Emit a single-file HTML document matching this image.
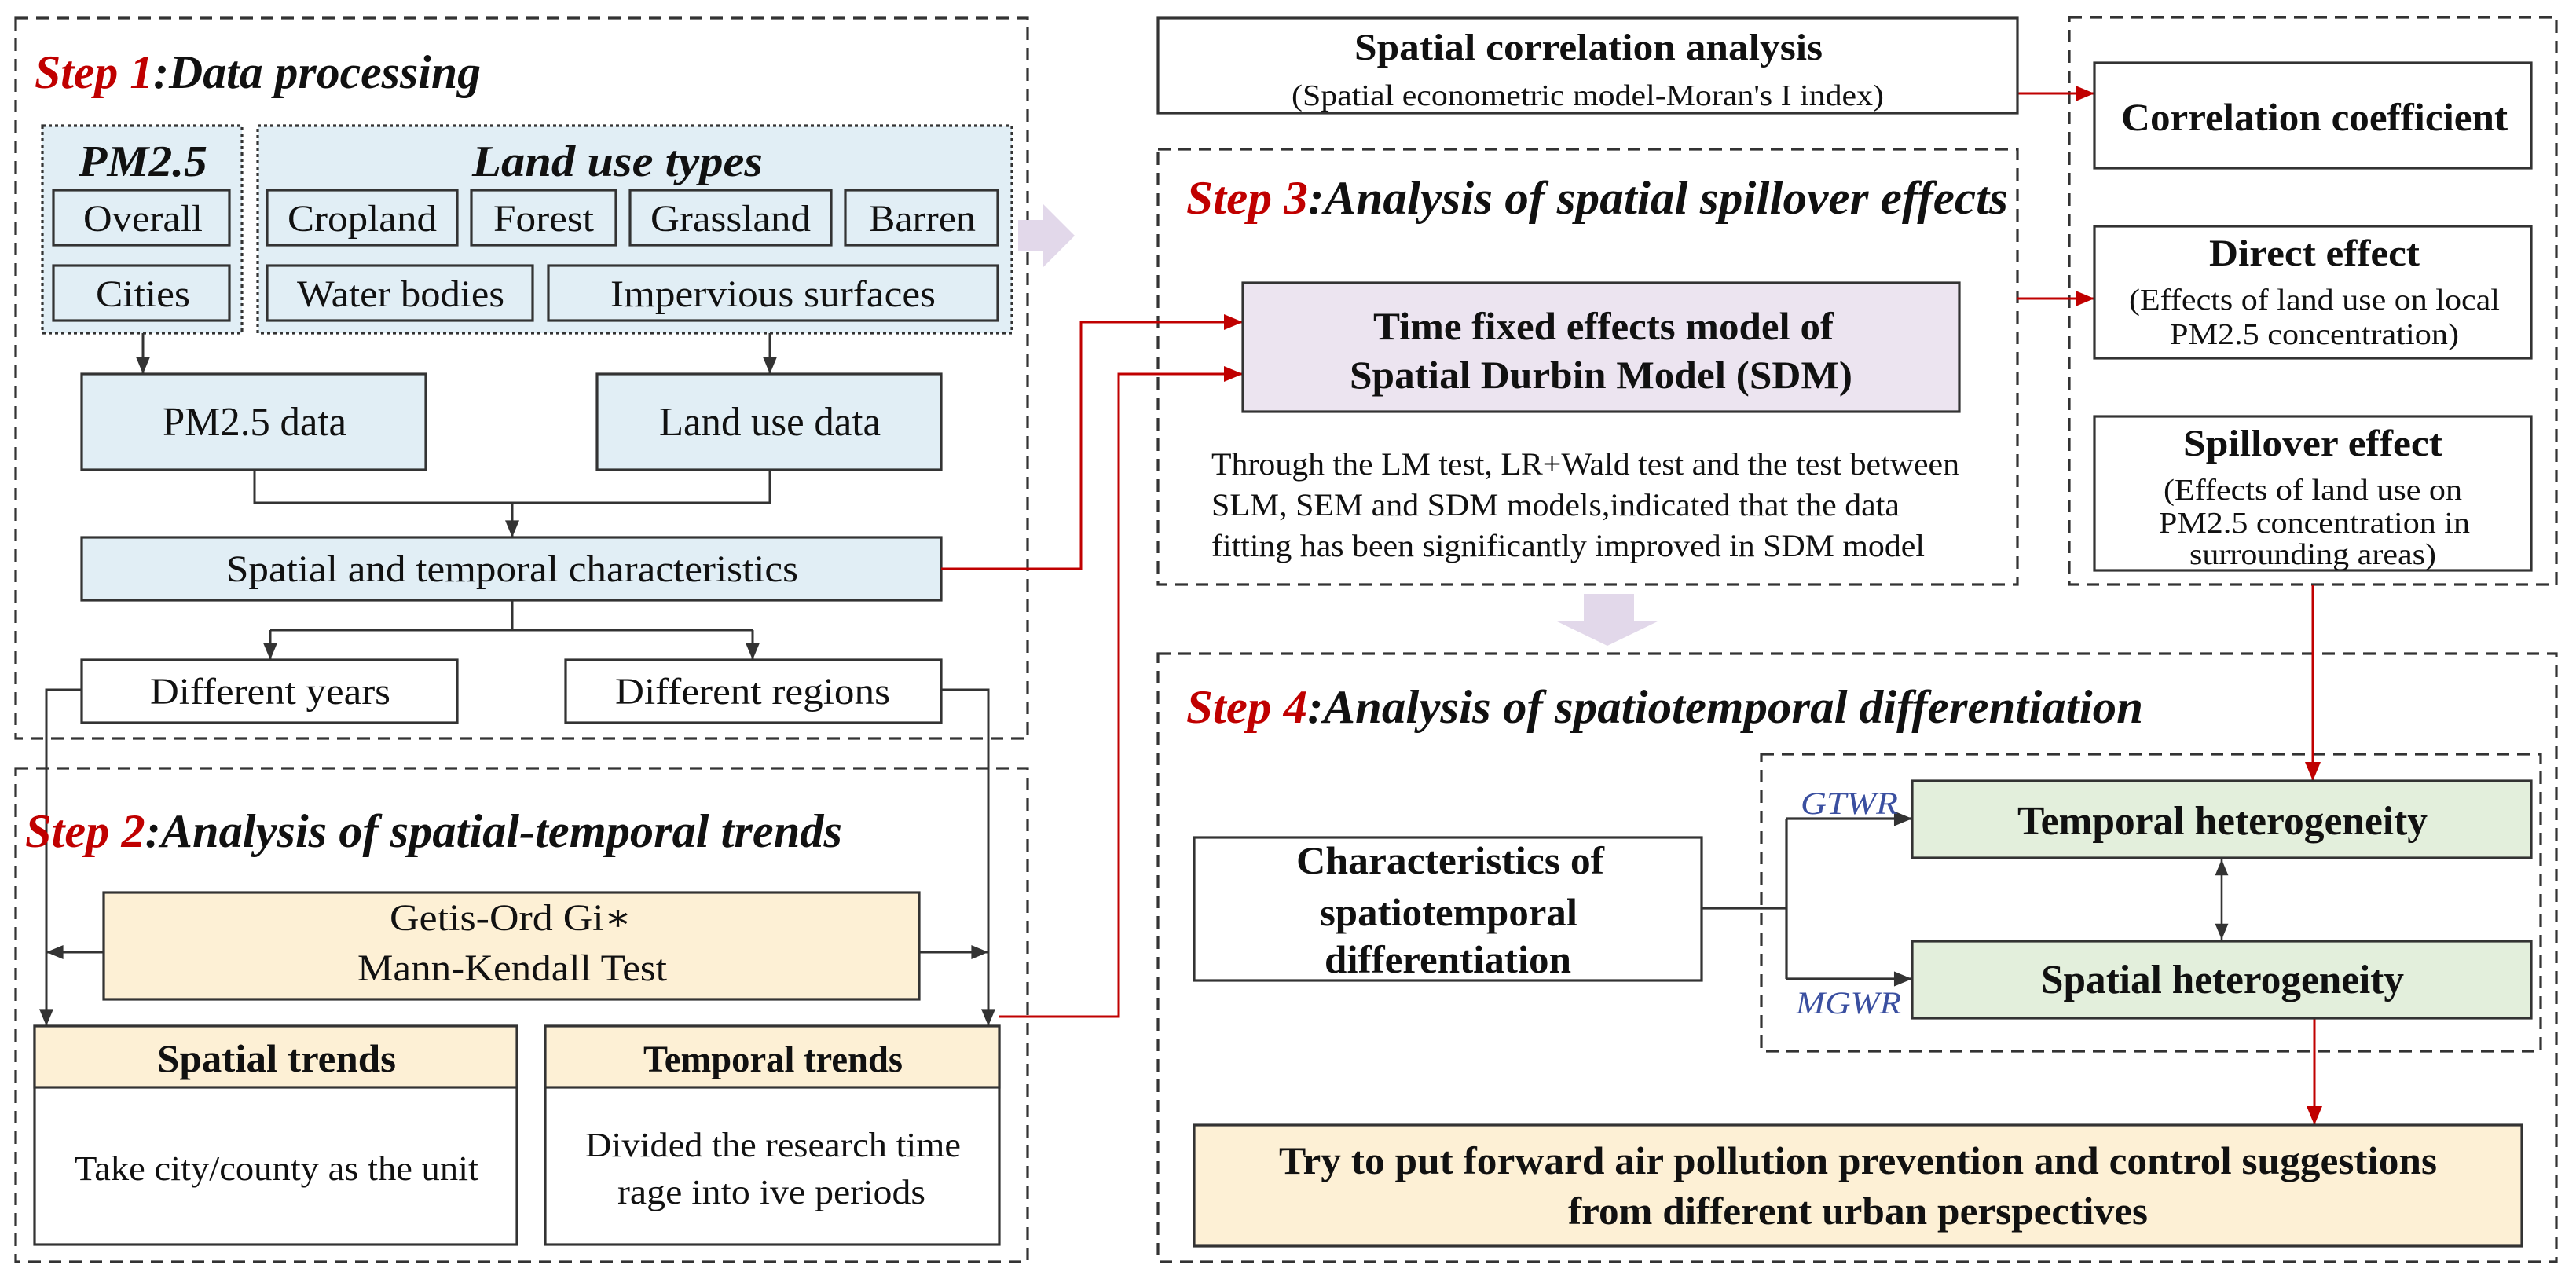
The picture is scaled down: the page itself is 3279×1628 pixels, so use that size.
<!DOCTYPE html>
<html><head><meta charset="utf-8"><style>
html,body{margin:0;padding:0;background:#fff;}
svg{display:block;}
text{font-family:"Liberation Serif","DejaVu Serif",serif;fill:#111;}
.b{font-weight:bold;}
.t{font-weight:bold;font-style:italic;}
</style></head><body>
<svg width="3279" height="1628" viewBox="0 0 1639.5 814" xmlns="http://www.w3.org/2000/svg">
<defs>
<marker id="ak" viewBox="0 0 12 10" refX="12" refY="5" markerWidth="7.5" markerHeight="6" orient="auto" markerUnits="strokeWidth"><path d="M0,0 L12,5 L0,10 z" fill="#333"/></marker>
<marker id="ar" viewBox="0 0 12 10" refX="12" refY="5" markerWidth="8" markerHeight="7" orient="auto" markerUnits="strokeWidth"><path d="M0,0 L12,5 L0,10 z" fill="#c00000"/></marker>
<marker id="ak2" viewBox="0 0 12 10" refX="12" refY="5" markerWidth="8" markerHeight="6.5" orient="auto-start-reverse" markerUnits="strokeWidth"><path d="M0,0 L12,5 L0,10 z" fill="#333"/></marker>
</defs>
<g fill="none" stroke="#333" stroke-width="1.6">
<rect x="10" y="11.5" width="644" height="458.5" stroke-dasharray="8 5"/>
<rect x="10" y="489" width="644" height="314" stroke-dasharray="8 5"/>
<rect x="737" y="95" width="547" height="277" stroke-dasharray="8 5"/>
<rect x="1317" y="11" width="310" height="361" stroke-dasharray="8 5"/>
<rect x="737" y="416" width="890" height="387" stroke-dasharray="8 5"/>
<rect x="1121" y="480" width="496" height="189" stroke-dasharray="8 5"/>
</g>
<path d="M648,140 L664,140 L664,130 L684,150 L664,170 L664,160 L648,160 z" fill="#e2d8ea"/>
<path d="M1008,378 L1040,378 L1040,395 L1056,395 L1023,411 L990,395 L1008,395 z" fill="#e2d8ea"/>

<text x="22" y="56" font-size="30" class="t" textLength="284" lengthAdjust="spacingAndGlyphs"><tspan fill="#c00000">Step 1</tspan>:Data processing</text>
<rect x="27" y="80" width="127" height="132" fill="#e1eef5" stroke="#333" stroke-width="1.6" stroke-dasharray="2 2"/>
<rect x="164" y="80" width="480" height="132" fill="#e1eef5" stroke="#333" stroke-width="1.6" stroke-dasharray="2 2"/>
<text x="91" y="112" font-size="28" class="t" text-anchor="middle" textLength="82" lengthAdjust="spacingAndGlyphs">PM2.5</text>
<text x="393" y="112" font-size="28" class="t" text-anchor="middle" textLength="185" lengthAdjust="spacingAndGlyphs">Land use types</text>
<g fill="#e1eef5" stroke="#333" stroke-width="1.6">
<rect x="34" y="121" width="112" height="35"/><rect x="34" y="169" width="112" height="35"/>
<rect x="170" y="121" width="121" height="35"/><rect x="300" y="121" width="92" height="35"/>
<rect x="401" y="121" width="128" height="35"/><rect x="538" y="121" width="97" height="35"/>
<rect x="170" y="169" width="169" height="35"/><rect x="349" y="169" width="286" height="35"/>
<rect x="52" y="238" width="219" height="61"/><rect x="380" y="238" width="219" height="61"/>
<rect x="52" y="342" width="547" height="40"/>
</g>
<g font-size="24" text-anchor="middle">
<text x="91" y="147" textLength="76" lengthAdjust="spacingAndGlyphs">Overall</text>
<text x="91" y="195" textLength="60" lengthAdjust="spacingAndGlyphs">Cities</text>
<text x="230.5" y="147" textLength="95" lengthAdjust="spacingAndGlyphs">Cropland</text>
<text x="346" y="147" textLength="64" lengthAdjust="spacingAndGlyphs">Forest</text>
<text x="465" y="147" textLength="102" lengthAdjust="spacingAndGlyphs">Grassland</text>
<text x="587" y="147" textLength="68" lengthAdjust="spacingAndGlyphs">Barren</text>
<text x="255" y="195" textLength="132" lengthAdjust="spacingAndGlyphs">Water bodies</text>
<text x="492" y="195" textLength="207" lengthAdjust="spacingAndGlyphs">Impervious surfaces</text>
<text x="162" y="277" font-size="26" textLength="117" lengthAdjust="spacingAndGlyphs">PM2.5 data</text>
<text x="490" y="277" font-size="26" textLength="141" lengthAdjust="spacingAndGlyphs">Land use data</text>
<text x="326" y="370" textLength="364" lengthAdjust="spacingAndGlyphs">Spatial and temporal characteristics</text>
</g>
<g fill="#fff" stroke="#333" stroke-width="1.6">
<rect x="52" y="420" width="239" height="40"/><rect x="360" y="420" width="239" height="40"/>
</g>
<text x="172" y="448" font-size="24" text-anchor="middle" textLength="153" lengthAdjust="spacingAndGlyphs">Different years</text>
<text x="479" y="448" font-size="24" text-anchor="middle" textLength="175" lengthAdjust="spacingAndGlyphs">Different regions</text>
<g fill="none" stroke="#333" stroke-width="1.5">
<path d="M91,212 V238" marker-end="url(#ak)"/>
<path d="M490,212 V238" marker-end="url(#ak)"/>
<path d="M162,299 V320 H490 V299"/>
<path d="M326,320 V342" marker-end="url(#ak)"/>
<path d="M326,382 V401"/>
<path d="M172,401 H479"/>
<path d="M172,401 V420" marker-end="url(#ak)"/>
<path d="M479,401 V420" marker-end="url(#ak)"/>
<path d="M52,439 H29.5 V653" marker-end="url(#ak)"/>
<path d="M599,439 H629 V653" marker-end="url(#ak)"/>
<path d="M66,606 H29.5" marker-end="url(#ak)"/>
<path d="M585,606 H629" marker-end="url(#ak)"/>
</g>

<text x="16" y="539" font-size="30" class="t" textLength="520" lengthAdjust="spacingAndGlyphs"><tspan fill="#c00000">Step 2</tspan>:Analysis of spatial-temporal trends</text>
<rect x="66" y="568" width="519" height="68" fill="#fdf0d5" stroke="#333" stroke-width="1.6"/>
<text x="325" y="592" font-size="24" text-anchor="middle" textLength="154" lengthAdjust="spacingAndGlyphs">Getis-Ord Gi∗</text>
<text x="326" y="624" font-size="24" text-anchor="middle" textLength="197" lengthAdjust="spacingAndGlyphs">Mann-Kendall Test</text>
<g stroke="#333" stroke-width="1.6">
<rect x="22" y="653" width="307" height="139" fill="#fff"/><rect x="22" y="653" width="307" height="39" fill="#fdf0d5"/>
<rect x="347" y="653" width="289" height="139" fill="#fff"/><rect x="347" y="653" width="289" height="39" fill="#fdf0d5"/>
</g>
<text x="176" y="682" font-size="25" class="b" text-anchor="middle" textLength="152" lengthAdjust="spacingAndGlyphs">Spatial trends</text>
<text x="492" y="682" font-size="24" class="b" text-anchor="middle" textLength="165" lengthAdjust="spacingAndGlyphs">Temporal trends</text>
<text x="176" y="751" font-size="22" text-anchor="middle" textLength="257" lengthAdjust="spacingAndGlyphs">Take city/county as the unit</text>
<text x="492" y="736" font-size="22" text-anchor="middle" textLength="239" lengthAdjust="spacingAndGlyphs">Divided the research time</text>
<text x="491" y="766" font-size="22" text-anchor="middle" textLength="196" lengthAdjust="spacingAndGlyphs">rage into  ive periods</text>

<g fill="none" stroke="#c00000" stroke-width="1.5">
<path d="M599,362 H688 V205 H791" marker-end="url(#ar)"/>
<path d="M636,647 H712 V238 H791" marker-end="url(#ar)"/>
<path d="M1284,59.5 H1333" marker-end="url(#ar)"/>
<path d="M1284,190 H1333" marker-end="url(#ar)"/>
<path d="M1472,372 V497" marker-end="url(#ar)"/>
<path d="M1473,648 V716" marker-end="url(#ar)"/>
</g>

<rect x="737" y="11.5" width="547" height="60.5" fill="#fff" stroke="#333" stroke-width="1.6"/>
<text x="1011" y="38" font-size="24" class="b" text-anchor="middle" textLength="298" lengthAdjust="spacingAndGlyphs">Spatial correlation analysis</text>
<text x="1010.5" y="67" font-size="19" text-anchor="middle" textLength="377" lengthAdjust="spacingAndGlyphs">(Spatial econometric model-Moran's I index)</text>
<g fill="#fff" stroke="#333" stroke-width="1.6">
<rect x="1333" y="40" width="278" height="67"/>
<rect x="1333" y="144" width="278" height="84"/>
<rect x="1333" y="265" width="278" height="98"/>
</g>
<text x="1473" y="83" font-size="25" class="b" text-anchor="middle" textLength="246" lengthAdjust="spacingAndGlyphs">Correlation coefficient</text>
<text x="1473" y="169" font-size="24" class="b" text-anchor="middle" textLength="134" lengthAdjust="spacingAndGlyphs">Direct effect</text>
<text x="1473" y="197" font-size="19" text-anchor="middle" textLength="236" lengthAdjust="spacingAndGlyphs">(Effects of land use on local</text>
<text x="1473" y="219" font-size="19" text-anchor="middle" textLength="184" lengthAdjust="spacingAndGlyphs">PM2.5 concentration)</text>
<text x="1472" y="290" font-size="24" class="b" text-anchor="middle" textLength="165" lengthAdjust="spacingAndGlyphs">Spillover effect</text>
<text x="1472" y="318" font-size="19" text-anchor="middle" textLength="190" lengthAdjust="spacingAndGlyphs">(Effects of land use on</text>
<text x="1473" y="339" font-size="19" text-anchor="middle" textLength="198" lengthAdjust="spacingAndGlyphs">PM2.5 concentration in</text>
<text x="1472" y="359" font-size="19" text-anchor="middle" textLength="157" lengthAdjust="spacingAndGlyphs">surrounding areas)</text>

<text x="755" y="136" font-size="30" class="t" textLength="523" lengthAdjust="spacingAndGlyphs"><tspan fill="#c00000">Step 3</tspan>:Analysis of  spatial spillover effects</text>
<rect x="791" y="180" width="456" height="82" fill="#ece4f0" stroke="#333" stroke-width="1.6"/>
<text x="1020.5" y="216" font-size="25" class="b" text-anchor="middle" textLength="293" lengthAdjust="spacingAndGlyphs">Time fixed effects model of</text>
<text x="1019" y="247" font-size="25" class="b" text-anchor="middle" textLength="320" lengthAdjust="spacingAndGlyphs">Spatial Durbin Model (SDM)</text>
<text x="771" y="302" font-size="20" textLength="476" lengthAdjust="spacingAndGlyphs">Through the LM test, LR+Wald test and the test between</text>
<text x="771" y="328" font-size="20" textLength="438" lengthAdjust="spacingAndGlyphs">SLM, SEM and SDM models,indicated that the data</text>
<text x="771" y="354" font-size="20" textLength="454" lengthAdjust="spacingAndGlyphs">fitting has been significantly improved in SDM model</text>

<text x="755" y="460" font-size="30" class="t" textLength="609" lengthAdjust="spacingAndGlyphs"><tspan fill="#c00000">Step 4</tspan>:Analysis of  spatiotemporal differentiation</text>
<rect x="760" y="533" width="323" height="91" fill="#fff" stroke="#333" stroke-width="1.6"/>
<text x="923" y="556" font-size="25" class="b" text-anchor="middle" textLength="196" lengthAdjust="spacingAndGlyphs">Characteristics of</text>
<text x="922" y="589" font-size="25" class="b" text-anchor="middle" textLength="164" lengthAdjust="spacingAndGlyphs">spatiotemporal</text>
<text x="921.5" y="619" font-size="25" class="b" text-anchor="middle" textLength="157" lengthAdjust="spacingAndGlyphs">differentiation</text>
<g fill="#e3efdc" stroke="#333" stroke-width="1.6">
<rect x="1217" y="497" width="394" height="49"/>
<rect x="1217" y="599" width="394" height="49"/>
</g>
<text x="1414.5" y="531" font-size="26" class="b" text-anchor="middle" textLength="261" lengthAdjust="spacingAndGlyphs">Temporal heterogeneity</text>
<text x="1414.5" y="632" font-size="26" class="b" text-anchor="middle" textLength="231" lengthAdjust="spacingAndGlyphs">Spatial heterogeneity</text>
<g fill="none" stroke="#333" stroke-width="1.6">
<path d="M1083,578 H1137"/>
<path d="M1137,521 V623"/>
<path d="M1137,521 H1217" marker-end="url(#ak)"/>
<path d="M1137,623 H1217" marker-end="url(#ak)"/>
<path d="M1414,547 V598" marker-start="url(#ak2)" marker-end="url(#ak2)" stroke-width="1.3"/>
</g>
<text x="1177" y="518" font-size="20" font-style="italic" style="fill:#3a4fa0" text-anchor="middle" textLength="62" lengthAdjust="spacingAndGlyphs">GTWR</text>
<text x="1176.5" y="645" font-size="20" font-style="italic" style="fill:#3a4fa0" text-anchor="middle" textLength="67" lengthAdjust="spacingAndGlyphs">MGWR</text>
<rect x="760" y="716" width="845" height="77" fill="#fdf0d5" stroke="#333" stroke-width="1.6"/>
<text x="1182.5" y="747" font-size="25" class="b" text-anchor="middle" textLength="737" lengthAdjust="spacingAndGlyphs">Try to put forward air pollution prevention and control suggestions</text>
<text x="1182.5" y="779" font-size="25" class="b" text-anchor="middle" textLength="369" lengthAdjust="spacingAndGlyphs">from different urban perspectives</text>
</svg>
</body></html>
